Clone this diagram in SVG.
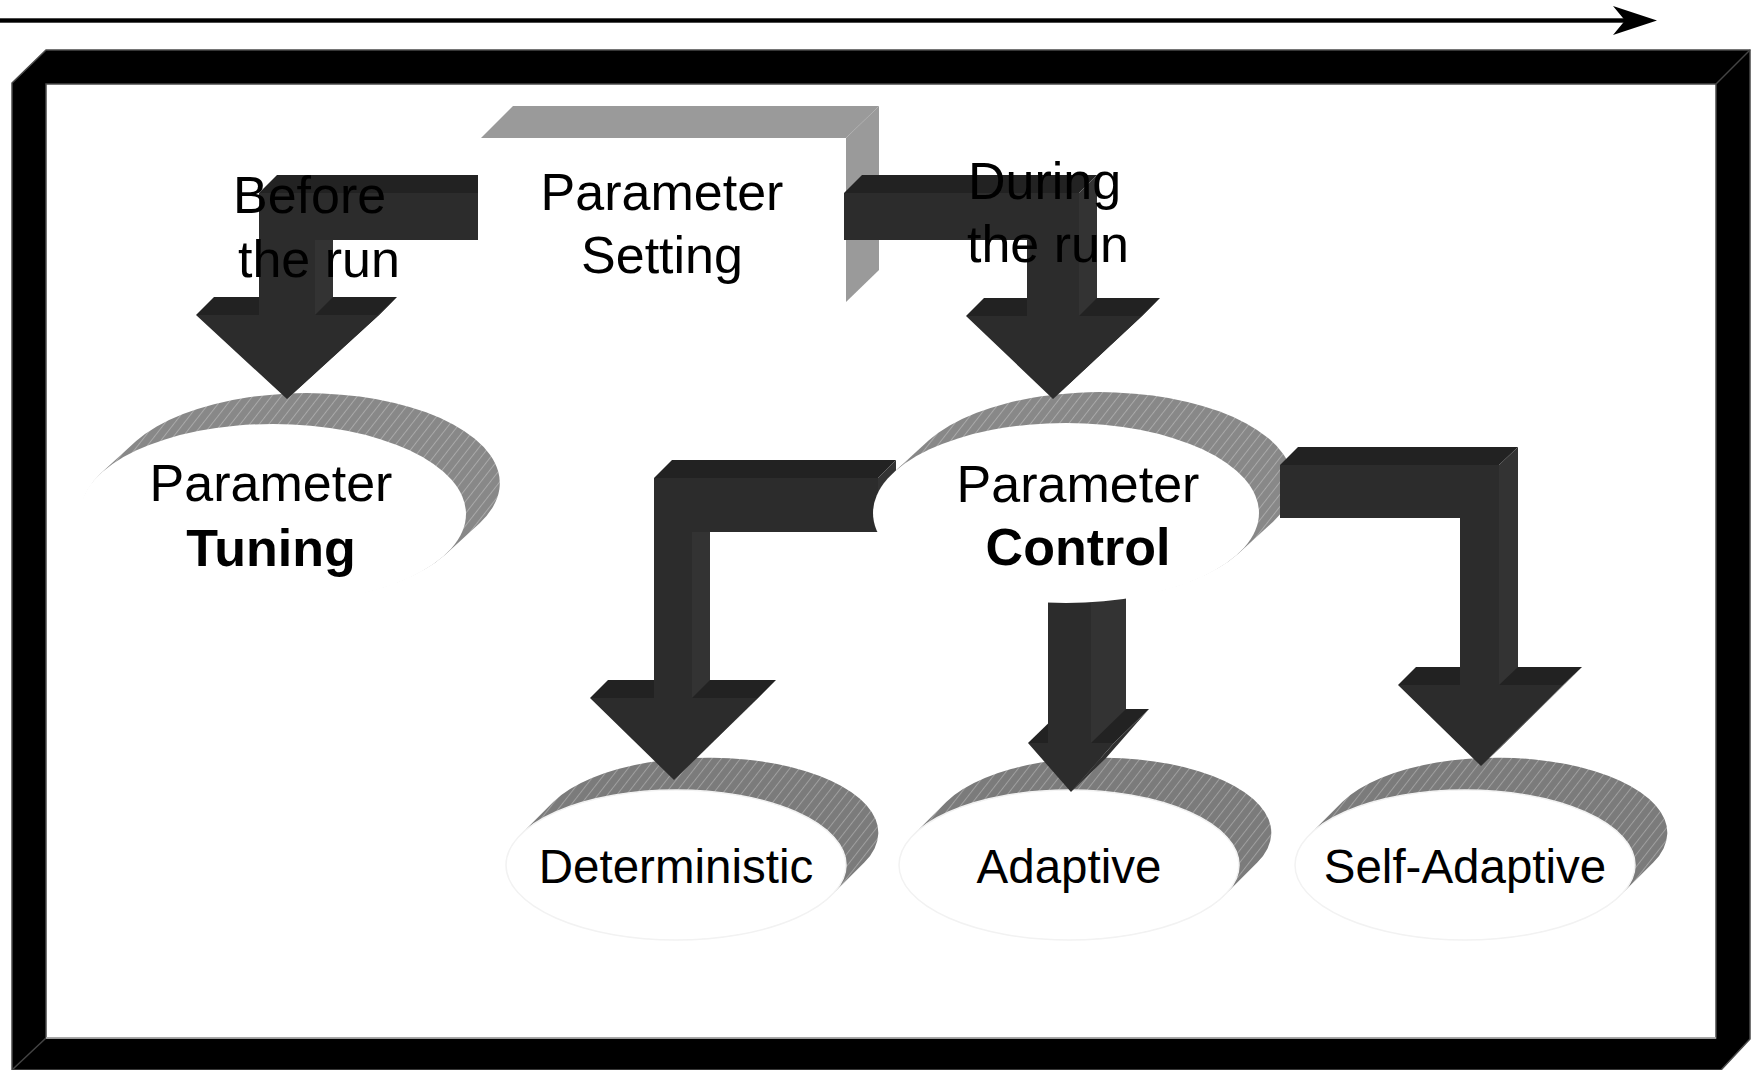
<svg xmlns="http://www.w3.org/2000/svg" width="1752" height="1070" viewBox="0 0 1752 1070">
  <style>
    .label { font-family: "Liberation Sans", Arial, sans-serif; fill: #000; }
    .big { font-size: 52px; }
    .small { font-size: 47.5px; }
    .bold { font-weight: bold; }
    .mid { text-anchor: middle; }
    .face { fill: #ffffff; stroke: #f2f2f2; stroke-width: 1.5; }
    .face-plain { fill: #ffffff; stroke: none; }
    .rim-hi { fill: url(#hatch-hi); }
    .rim-lo { fill: url(#hatch-lo); }
    .a-front { fill: #2c2c2c; }
    .a-top { fill: #222222; }
    .a-side { fill: #333333; }
    .a-head-side { fill: #303030; }
    .box-side { fill: #9a9a9a; }
  </style>
  <defs>
    <!-- hatched rims of the raised discs -->
    <pattern id="hatch-hi" patternUnits="userSpaceOnUse" width="7.5" height="20" patternTransform="rotate(38)">
      <rect width="7.5" height="20" fill="#888888"/>
      <line x1="0.5" y1="0" x2="0.5" y2="20" stroke="#b2b2b2" stroke-width="0.8"/>
    </pattern>
    <pattern id="hatch-lo" patternUnits="userSpaceOnUse" width="7.5" height="20" patternTransform="rotate(38)">
      <rect width="7.5" height="20" fill="#7b7b7b"/>
      <line x1="0.5" y1="0" x2="0.5" y2="20" stroke="#a9a9a9" stroke-width="0.8"/>
    </pattern>
    <!-- arrows that pass behind the Parameter Control disc -->
    <mask id="behind-control" maskUnits="userSpaceOnUse" x="0" y="0" width="1752" height="1070">
      <rect width="1752" height="1070" fill="#fff"/>
      <ellipse cx="1066" cy="513" rx="193" ry="90" fill="#000"/>
    </mask>
  </defs>

  <rect width="1752" height="1070" fill="#ffffff"/>

  <!-- time axis -->
  <g id="time-arrow">
    <rect x="0" y="18.3" width="1626" height="4.4" fill="#000"/>
    <polygon points="1657,20.5 1613,6 1625,20.5 1613,35" fill="#000"/>
  </g>

  <!-- bevelled black frame -->
  <g id="frame">
    <path d="M12,83 L46,50 L1750,50 L1750,1039 L1721,1070 L12,1070 Z M46,84 L46,1038 L1716,1038 L1716,84 Z" fill="#000" fill-rule="evenodd" stroke="#4a4a4a" stroke-width="1.5"/>
    <line x1="1716" y1="84" x2="1750" y2="50" stroke="#444" stroke-width="1.5"/>
    <line x1="46" y1="1038" x2="13" y2="1069" stroke="#444" stroke-width="1.5"/>
    <line x1="46" y1="1038" x2="1716" y2="1038" stroke="#bbbbbb" stroke-width="1.5"/>
  </g>

  <g id="node-setting">
    <polygon class="box-side" points="481,138 513,106 879,106 846,138"/>
    <polygon class="box-side" points="846,138 879,106 879,270 846,302"/>
    <rect x="481" y="138" width="365" height="164" fill="#ffffff"/>
    <text class="label big mid" x="662" y="210">Parameter</text>
    <text class="label big mid" x="662" y="273">Setting</text>
  </g>

  <g id="node-tuning">
    <path class="rim-hi" d="M101.1,473.1 L136.1,441.1 A193,90 0 0 1 479.9,522.9 L444.9,554.9 A193,90 0 0 1 101.1,473.1 Z"/>
    <ellipse class="face-plain" cx="273" cy="514" rx="193" ry="90"/>
    <text class="label big mid" x="271" y="501">Parameter</text>
    <text class="label big mid bold" x="271" y="566">Tuning</text>
  </g>

  <g id="node-control">
    <path class="rim-hi" d="M894.1,472.1 L929.1,440.1 A193,90 0 0 1 1272.9,521.9 L1237.9,553.9 A193,90 0 0 1 894.1,472.1 Z"/>
    <ellipse class="face-plain" cx="1066" cy="513" rx="193" ry="90"/>
    <text class="label big mid" x="1078" y="502">Parameter</text>
    <text class="label big mid bold" x="1078" y="565">Control</text>
  </g>

  <g id="node-deterministic">
    <path class="rim-lo" d="M520.5,834.7 L553.5,801.7 A170,75 0 0 1 864.5,862.3 L831.5,895.3 A170,75 0 0 1 520.5,834.7 Z"/>
    <ellipse class="face" cx="676" cy="865" rx="170" ry="75"/>
    <text class="label small mid" x="676" y="883">Deterministic</text>
  </g>

  <g id="node-adaptive">
    <path class="rim-lo" d="M913.5,834.7 L946.5,801.7 A170,75 0 0 1 1257.5,862.3 L1224.5,895.3 A170,75 0 0 1 913.5,834.7 Z"/>
    <ellipse class="face" cx="1069" cy="865" rx="170" ry="75"/>
    <text class="label small mid" x="1069" y="883">Adaptive</text>
  </g>

  <g id="node-self-adaptive">
    <path class="rim-lo" d="M1309.5,834.7 L1342.5,801.7 A170,75 0 0 1 1653.5,862.3 L1620.5,895.3 A170,75 0 0 1 1309.5,834.7 Z"/>
    <ellipse class="face" cx="1465" cy="865" rx="170" ry="75"/>
    <text class="label small mid" x="1465" y="883">Self-Adaptive</text>
  </g>

  <g id="connectors">
    <!-- setting -> tuning -->
    <g id="arrow-before">
      <polygon class="a-top" points="259,193 277,175 478,175 478,193"/>
      <polygon class="a-top" points="196,315 214,297 397,297 379,315"/>
      <polygon class="a-side" points="315,240 333,222 333,297 315,315"/>
      <polygon class="a-head-side" points="379,315 397,297 305,381 287,399"/>
      <polygon class="a-front" points="259,193 478,193 478,240 315,240 315,315 379,315 287,399 196,315 259,315"/>
    </g>
    <!-- setting -> control -->
    <g id="arrow-during">
      <polygon class="a-top" points="844,193 862,175 1097,175 1079,193"/>
      <polygon class="a-top" points="966,316 984,298 1160,298 1142,316"/>
      <polygon class="a-side" points="1079,193 1097,175 1097,298 1079,316"/>
      <polygon class="a-head-side" points="1142,316 1160,298 1071,381 1053,399"/>
      <polygon class="a-front" points="844,193 1079,193 1079,316 1142,316 1053,399 966,316 1027,316 1027,240 844,240"/>
    </g>
    <!-- control -> deterministic -->
    <g id="arrow-deterministic" mask="url(#behind-control)">
      <polygon class="a-top" points="654,478 672,460 896,460 878,478"/>
      <polygon class="a-side" points="878,478 896,460 896,514 878,532"/>
      <polygon class="a-top" points="590,698 608,680 776,680 758,698"/>
      <polygon class="a-side" points="692,532 710,514 710,680 692,698"/>
      <polygon class="a-head-side" points="758,698 776,680 692,762 674,780"/>
      <polygon class="a-front" points="654,478 878,478 878,532 692,532 692,698 758,698 674,780 590,698 654,698"/>
    </g>
    <!-- control -> adaptive -->
    <g id="arrow-adaptive" mask="url(#behind-control)">
      <polygon class="a-top" points="1028,743 1063,709 1149,709 1114,743"/>
      <polygon class="a-side" points="1091,560 1126,526 1126,709 1091,743"/>
      <polygon class="a-head-side" points="1114,743 1149,709 1106,758 1071,792"/>
      <polygon class="a-front" points="1048,560 1091,560 1091,743 1114,743 1071,792 1028,743 1048,743"/>
    </g>
    <!-- control -> self-adaptive -->
    <g id="arrow-self-adaptive">
      <polygon class="a-top" points="1280,465 1298,447 1518,447 1499,465"/>
      <polygon class="a-top" points="1398,685 1416,667 1582,667 1563,685"/>
      <polygon class="a-side" points="1499,465 1518,447 1518,667 1499,685"/>
      <polygon class="a-head-side" points="1563,685 1582,667 1500,748 1481,766"/>
      <polygon class="a-front" points="1280,465 1499,465 1499,685 1563,685 1481,766 1398,685 1460,685 1460,518 1280,518"/>
    </g>
    <g id="connector-labels">
      <text class="label big" x="233" y="213">Before</text>
      <text class="label big" x="238" y="277">the run</text>
      <text class="label big" x="968" y="199">During</text>
      <text class="label big" x="967" y="262">the run</text>
    </g>
  </g>
</svg>
